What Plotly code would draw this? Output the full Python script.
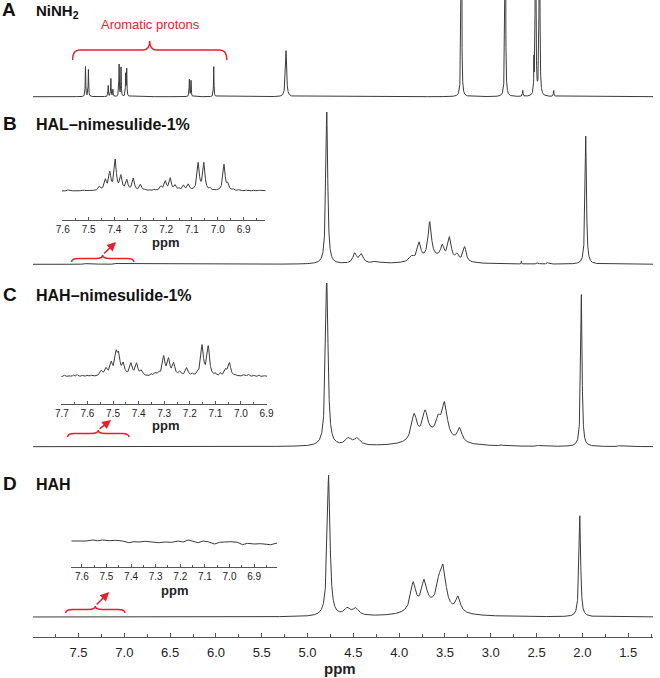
import numpy as np
import plotly.graph_objects as go

W, H = 660, 678
ML, MB = 33, 41
PW, PH = W - ML, H - MB


def px(x):
    return (x - ML) / PW


def py(y):
    return (PH - y) / PH


# peak tables: position (ppm), height (px), half width (ppm)
a_ppm = [7.424, 7.392, 7.176, 7.147, 7.125, 7.057, 7.036, 6.985, 6.974, 6.290, 6.272, 6.024, 5.235,
         3.321, 2.842, 2.651, 2.529, 2.511, 2.468, 2.313]
a_h = [30, 27, 11, 18, 7, 32, 29, 22, 27, 17, 16, 30, 46, 400, 400, 6, 30, 400, 400, 6]
a_w = [0.003, 0.003, 0.003, 0.003, 0.003, 0.003, 0.003, 0.003, 0.003, 0.003, 0.003, 0.003, 0.008,
       0.003, 0.003, 0.004, 0.002, 0.003, 0.003, 0.004]

b_ppm = [4.79, 4.484, 4.411, 4.25, 3.861, 3.782, 3.666, 3.529, 3.450, 3.367, 3.285, 3.60, 2.665, 2.486, 2.378,
         1.963, 7.40, 7.33, 7.08]
b_h = [155, 10, 9, 2, 5, 17, 36, 12, 22, 6, 15, 6, 3, 1.5, 1.5, 128, 1.2, 0.8, 1.0]
b_w = [0.012, 0.025, 0.025, 0.04, 0.03, 0.022, 0.022, 0.022, 0.022, 0.02, 0.02, 0.2, 0.002, 0.01, 0.01,
       0.009, 0.02, 0.02, 0.02]

c_ppm = [4.79, 4.555, 4.458, 3.836, 3.717, 3.573, 3.504, 3.339, 3.62, 2.881, 2.486, 2.011, 1.60]
c_h = [170, 7, 7, 26, 25, 14, 34, 14, 10, 1.2, 1, 152, 1]
c_w = [0.016, 0.04, 0.04, 0.035, 0.035, 0.03, 0.035, 0.03, 0.2, 0.01, 0.01, 0.009, 0.01]

d_ppm = [4.77, 4.566, 4.473, 3.847, 3.728, 3.566, 3.519, 3.357, 3.62, 2.028]
d_h = [141, 7, 7, 28, 26, 18, 38, 15, 10, 101]
d_w = [0.018, 0.04, 0.04, 0.035, 0.035, 0.03, 0.035, 0.03, 0.2, 0.011]

# inset peak tables (aromatic region), including the small noise wiggles
bi_ppm = [7.458, 7.435, 7.418, 7.397, 7.375, 7.352, 7.327, 7.299, 7.220, 7.203, 7.184, 7.165, 7.133,
          7.114, 7.076, 7.054, 6.976, 6.961,
          7.58, 7.55, 7.52, 7.49, 7.28, 7.26, 7.245, 7.15, 7.03, 6.94, 6.92, 6.89, 6.86, 6.84]
bi_h = [4, 10, 17, 30, 14, 10, 12, 6, 4, 9, 12, 5, 5, 6, 27, 27, 26, 6,
        1.2, 0.8, 1.0, 0.8, 1.5, 1.0, 1.5, 2, 2, 1.5, 1.0, 0.8, 1.0, 0.8]
bi_w = [0.005] * 18 + [0.003] * 14

ci_ppm = [7.546, 7.527, 7.507, 7.488, 7.478, 7.460, 7.430, 7.408, 7.389, 7.334, 7.302, 7.283, 7.263,
          7.238, 7.212, 7.152, 7.128, 7.060, 7.045, 6.987,
          7.69, 7.67, 7.655, 7.64, 7.62, 7.60, 7.585, 7.35, 7.32, 7.19, 7.17, 7.10, 7.08, 7.02, 6.97,
          6.95, 6.93, 6.91]
ci_h = [5, 7, 12, 20, 18, 11, 12, 12, 5, 3, 19, 16, 12, 4, 8, 30, 29, 6, 13, 2,
        1.5, 1.0, 1.5, 2.0, 1.2, 1.5, 1.2, 2, 2.5, 2, 2.5, 2, 2.5, 1.5, 2, 1.2, 1.5, 1.0]
ci_w = [0.006] * 20 + [0.003] * 18

# HAH inset baseline (no aromatic signal)
di_ppm = [7.643, 7.609, 7.583, 7.556, 7.536, 7.516, 7.489, 7.462, 7.435, 7.409, 7.388, 7.368, 7.342,
          7.315, 7.288, 7.261, 7.235, 7.208, 7.188, 7.168, 7.148, 7.127, 7.107, 7.087, 7.061, 7.040,
          7.020, 6.994, 6.967, 6.947, 6.927, 6.900, 6.873, 6.853, 6.833, 6.806]
di_h = [4.0, 4.3, 4.0, 5.0, 4.3, 5.0, 4.3, 4.7, 4.0, 2.3, 3.3, 3.0, 3.7, 3.0, 2.3, 3.0, 2.7, 4.0, 3.0,
        5.0, 3.3, 2.3, 4.0, 3.3, 1.0, 2.7, 3.0, 3.3, 2.7, 0.3, 1.7, 1.0, 1.3, 0.7, 0.3, 2.0]


def spectrum(lo, hi, step, pos, hgt, wid):
    x = np.union1d(np.arange(lo, hi, step), pos)
    y = np.zeros_like(x)
    for p, h, w in zip(pos, hgt, wid):
        y += h * w ** 2 / ((x - p) ** 2 + w ** 2)
    return x, y


LINE = dict(color='#3a3a3a', width=1)
FONT = 'Liberation Sans, Arial, sans-serif'
RED = '#e3232b'

fig = go.Figure()
for (pos, hgt, wid), ya in [((a_ppm, a_h, a_w), 'y'), ((b_ppm, b_h, b_w), 'y2'),
                            ((c_ppm, c_h, c_w), 'y3'), ((d_ppm, d_h, d_w), 'y4')]:
    x, y = spectrum(1.2, 8.0, 0.001, pos, hgt, wid)
    fig.add_trace(go.Scatter(x=x, y=y, mode='lines', line=LINE, xaxis='x', yaxis=ya, hoverinfo='skip'))

xb, yb = spectrum(6.80, 7.61, 0.0005, bi_ppm, bi_h, bi_w)
fig.add_trace(go.Scatter(x=xb, y=yb, mode='lines', line=LINE, xaxis='x2', yaxis='y5'))
xc, yc = spectrum(6.89, 7.71, 0.0005, ci_ppm, ci_h, ci_w)
fig.add_trace(go.Scatter(x=xc, y=yc, mode='lines', line=LINE, xaxis='x3', yaxis='y6'))
fig.add_trace(go.Scatter(x=di_ppm, y=di_h, mode='lines', line=LINE, xaxis='x4', yaxis='y7'))

hidden = dict(visible=False, fixedrange=True)
ax_common = dict(showline=True, linecolor='#555555', linewidth=1, ticks='inside', tickcolor='#555555',
                 showgrid=False, zeroline=False, tickformat='.1f', tickfont=dict(family=FONT, color='#222222'))

fig.update_layout(
    width=W, height=H, margin=dict(l=ML, r=0, t=0, b=MB),
    paper_bgcolor='white', plot_bgcolor='white', showlegend=False,
    xaxis=dict(domain=[0, 1], range=[7.997, 1.229], anchor='free', position=0, dtick=0.5, tick0=0,
               ticklen=4, ticklabelstandoff=3, minor=dict(dtick=0.25, ticks='inside', ticklen=3, tickcolor='#555555'),
               **{**ax_common, 'tickfont': dict(family=FONT, size=13, color='#222222')}),
    yaxis=dict(domain=[py(100), py(0)], range=[-3.3, 96.7], **hidden),
    yaxis2=dict(domain=[py(268), py(112)], range=[-3.7, 152.3], **hidden),
    yaxis3=dict(domain=[py(450), py(283)], range=[-3.3, 163.7], **hidden),
    yaxis4=dict(domain=[py(620), py(470)], range=[-3, 147], **hidden),
    xaxis2=dict(domain=[px(62.3), px(268)], range=[7.603, 6.816], anchor='y5', dtick=0.1, tick0=0, ticklen=3,
                minor=dict(dtick=0.05, ticks='inside', ticklen=2, tickcolor='#555555'),
                **{**ax_common, 'tickfont': dict(family=FONT, size=10, color='#222222')}),
    yaxis5=dict(domain=[py(220), py(150)], range=[-29, 41], **hidden),
    xaxis3=dict(domain=[px(61.7), px(269.7)], range=[7.702, 6.898], anchor='y6', dtick=0.1, tick0=0, ticklen=3,
                minor=dict(dtick=0.05, ticks='inside', ticklen=2, tickcolor='#555555'),
                **{**ax_common, 'tickfont': dict(family=FONT, size=10, color='#222222')}),
    yaxis6=dict(domain=[py(404.3), py(330)], range=[-27.6, 46.7], **hidden),
    xaxis4=dict(domain=[px(71.7), px(280)], range=[7.643, 6.806], anchor='y7', dtick=0.1, tick0=0, ticklen=3,
                minor=dict(dtick=0.05, ticks='inside', ticklen=2, tickcolor='#555555'),
                **{**ax_common, 'tickfont': dict(family=FONT, size=10, color='#222222')}),
    yaxis7=dict(domain=[py(566.7), py(520)], range=[-21.7, 25], **hidden),
)


def text(x, y, s, size, color='#111111', anchor='left'):
    fig.add_annotation(x=px(x), y=py(y), xref='paper', yref='paper', text=s, showarrow=False,
                       xanchor=anchor, yanchor='middle', font=dict(family=FONT, size=size, color=color))


text(0, 10, '<b>A</b>', 19)
text(34, 11, '<b>NiNH<sub>2</sub></b>', 15)
text(1, 123, '<b>B</b>', 19)
text(34, 124, '<b>HAL–nimesulide-1%</b>', 16)
text(1, 294, '<b>C</b>', 19)
text(34, 295, '<b>HAH–nimesulide-1%</b>', 16)
text(1, 483, '<b>D</b>', 19)
text(34, 484, '<b>HAH</b>', 16)
text(152, 24, 'Aromatic protons', 13, RED, 'center')

text(343, 668, '<b>ppm</b>', 15, '#222222', 'center')
text(167, 243, '<b>ppm</b>', 13, '#222222', 'center')
text(167, 425, '<b>ppm</b>', 13, '#222222', 'center')
text(176, 590, '<b>ppm</b>', 13, '#222222', 'center')


def brace(x0, x1, ytip, ymid, yend):
    cx = (x0 + x1) / 2
    r = 7
    pts = [('M', x0, yend), ('Q', x0, ymid), (None, x0 + r, ymid), ('L', cx - r, ymid), ('Q', cx, ymid),
           (None, cx, ytip), ('Q', cx, ymid), (None, cx + r, ymid), ('L', x1 - r, ymid), ('Q', x1, ymid),
           (None, x1, yend)]
    path = ''
    for cmd, x, y in pts:
        path += (cmd or ' ') + f'{px(x):.5f},{py(y):.5f} '
    fig.add_shape(type='path', path=path.strip(), xref='paper', yref='paper', line=dict(color=RED, width=1.5))


brace(73, 229, 41, 50, 60)
brace(72, 135, 255, 258.5, 262)
brace(68, 130, 430, 433.5, 437)
brace(66, 126, 606, 609.5, 613)


def arrow(x0, y0, x1, y1):
    fig.add_annotation(x=px(x1), y=py(y1), xref='paper', yref='paper', ax=x0 - x1, ay=y0 - y1,
                       axref='pixel', ayref='pixel', text='', showarrow=True, arrowhead=2, arrowsize=1.2,
                       arrowwidth=1.5, arrowcolor=RED)


arrow(103.5, 255, 117, 242)
arrow(99, 430, 112, 420)
arrow(96, 606, 110, 592)

fig.write_html('out.html', config={'displayModeBar': False},
               post_script="document.body.style.margin='0';document.body.style.overflow='hidden';")
